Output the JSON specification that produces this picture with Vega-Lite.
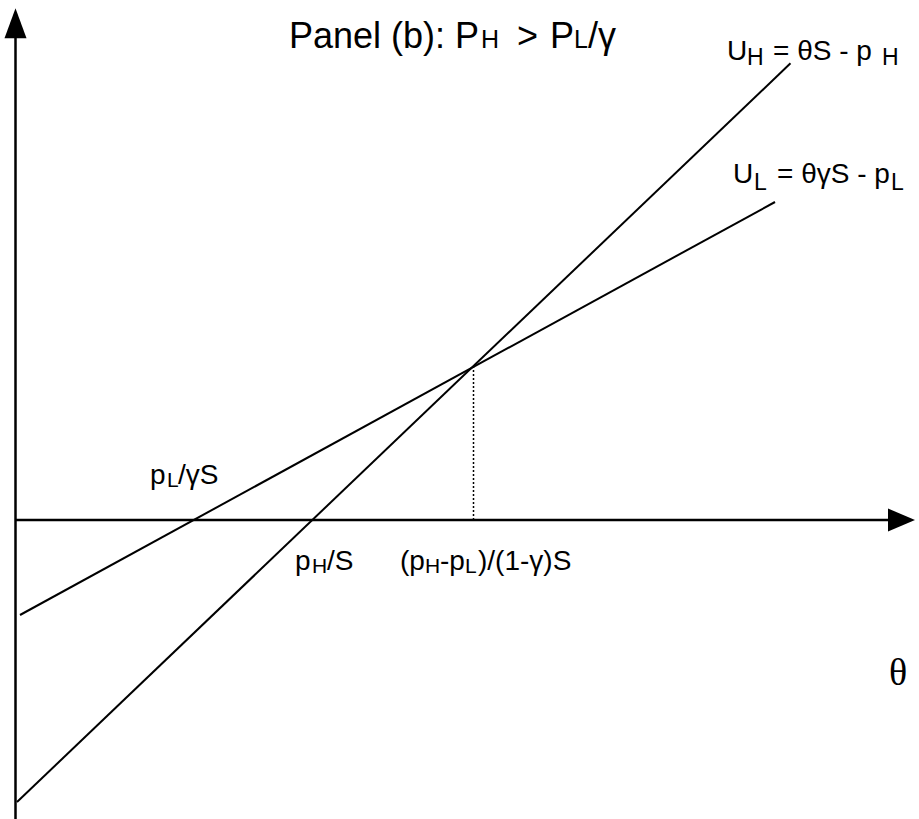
{
  "$schema": "https://vega.github.io/schema/vega-lite/v6.json",
  "width": 919,
  "height": 819,
  "autosize": {"type": "none"},
  "padding": 0,
  "background": "white",
  "config": {"view": {"stroke": null}},
  "datasets": {
    "segments": [
      {"id": "theta axis", "kind": "axis", "x": 0, "y": 0, "x2": 873, "y2": 0},
      {"id": "U axis", "kind": "axis", "x": 0, "y": -299, "x2": 0, "y2": 482},
      {"id": "U_H", "kind": "curve", "x": 1.5, "y": -282, "x2": 775, "y2": 456.7},
      {"id": "U_L", "kind": "curve", "x": 4.5, "y": -95, "x2": 759.5, "y2": 318},
      {"id": "crossing", "kind": "guide", "x": 458, "y": 0, "x2": 458, "y2": 153.5}
    ],
    "arrows": [
      {"dir": "up", "x": 0, "y": 496.7},
      {"dir": "right", "x": 886, "y": 0}
    ],
    "labels": [
      {"t": "Panel (b): P", "k": "title", "x": 273.5, "y": 472},
      {"t": "H", "k": "titleSub", "x": 465.5, "y": 472},
      {"t": ">", "k": "title", "x": 501.5, "y": 472},
      {"t": "P", "k": "title", "x": 534.5, "y": 472},
      {"t": "L", "k": "titleSub", "x": 558.5, "y": 472},
      {"t": "/γ", "k": "title", "x": 572.5, "y": 472},
      {"t": "U", "k": "eq", "x": 711.5, "y": 460},
      {"t": "H", "k": "eqSub", "x": 731.5, "y": 455},
      {"t": "= θS - p", "k": "eq", "x": 757.5, "y": 460},
      {"t": "H", "k": "eqSub", "x": 866.5, "y": 455},
      {"t": "U", "k": "eq", "x": 717.5, "y": 337},
      {"t": "L", "k": "eqSub", "x": 738.5, "y": 330},
      {"t": "= θγS - p", "k": "eq", "x": 761.5, "y": 337},
      {"t": "L", "k": "eqSub", "x": 875.5, "y": 330},
      {"t": "p", "k": "pt", "x": 134.5, "y": 36},
      {"t": "L", "k": "ptSub", "x": 151.5, "y": 33},
      {"t": "/γS", "k": "pt", "x": 162.5, "y": 36},
      {"t": "p", "k": "pt", "x": 279.5, "y": -50},
      {"t": "H", "k": "ptSub", "x": 296.5, "y": -53},
      {"t": "/S", "k": "pt", "x": 311.5, "y": -50},
      {"t": "(p", "k": "pt", "x": 384.5, "y": -50},
      {"t": "H", "k": "ptSub", "x": 409.5, "y": -53},
      {"t": "-p", "k": "pt", "x": 424.5, "y": -50},
      {"t": "L", "k": "ptSub", "x": 449.5, "y": -53},
      {"t": ")/(1-γ)S", "k": "pt", "x": 462.5, "y": -50}
    ],
    "axisNames": [
      {"t": "θ", "x": 873.5, "y": -165}
    ]
  },
  "encoding": {
    "x": {"field": "x", "type": "quantitative", "scale": {"domain": [-15.5, 903.5], "nice": false, "zero": false}, "axis": null},
    "y": {"field": "y", "type": "quantitative", "scale": {"domain": [-299, 520], "nice": false, "zero": false}, "axis": null}
  },
  "layer": [
    {
      "data": {"name": "segments"},
      "transform": [{"filter": "datum.kind === 'axis'"}],
      "mark": {"type": "rule", "color": "black", "strokeWidth": 2.5},
      "encoding": {"x2": {"field": "x2"}, "y2": {"field": "y2"}}
    },
    {
      "data": {"name": "segments"},
      "transform": [{"filter": "datum.kind === 'curve'"}],
      "mark": {"type": "rule", "color": "black", "strokeWidth": 2},
      "encoding": {"x2": {"field": "x2"}, "y2": {"field": "y2"}}
    },
    {
      "data": {"name": "segments"},
      "transform": [{"filter": "datum.kind === 'guide'"}],
      "mark": {"type": "rule", "color": "black", "strokeWidth": 1.5, "strokeDash": [2, 2]},
      "encoding": {"x2": {"field": "x2"}, "y2": {"field": "y2"}}
    },
    {
      "data": {"name": "arrows"},
      "transform": [{"filter": "datum.dir === 'up'"}],
      "mark": {"type": "point", "shape": "M0,-1.364L1,1.364L-1,1.364Z", "filled": true, "color": "black", "opacity": 1, "size": 484}
    },
    {
      "data": {"name": "arrows"},
      "transform": [{"filter": "datum.dir === 'right'"}],
      "mark": {"type": "point", "shape": "M1.227,0L-1.227,-1.05L-1.227,1.05Z", "filled": true, "color": "black", "opacity": 1, "size": 484}
    },
    {
      "data": {"name": "labels"},
      "mark": {"type": "text", "align": "left", "baseline": "alphabetic", "font": "Liberation Sans", "color": "black"},
      "encoding": {
        "text": {"field": "t"},
        "size": {"field": "k", "type": "nominal", "scale": {"type": "ordinal", "domain": ["title", "titleSub", "eq", "eqSub", "pt", "ptSub"], "range": [36, 25, 28, 23, 28, 21]}, "legend": null}
      }
    },
    {
      "data": {"name": "axisNames"},
      "mark": {"type": "text", "align": "left", "baseline": "alphabetic", "font": "Liberation Serif", "fontSize": 38, "color": "black"},
      "encoding": {"text": {"field": "t"}}
    }
  ]
}
